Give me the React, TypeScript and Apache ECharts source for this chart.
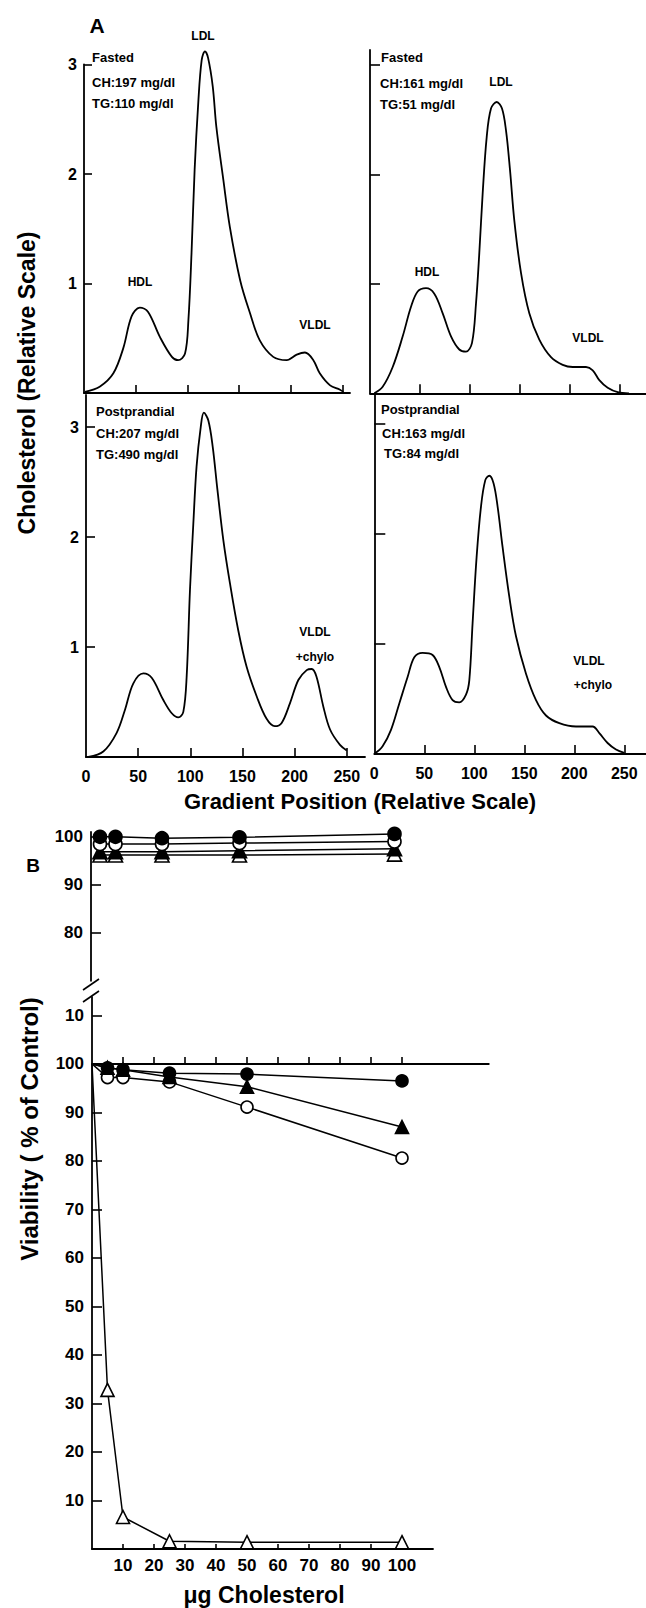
import React, { useEffect, useRef } from "react";
import * as echarts from "echarts";

const FONT = '"Liberation Sans", Arial, Helvetica, sans-serif';

// ---------- Panel A: gradient position vs cholesterol (relative scale) ----------
const fastedAPos = [1, 15.5, 28.4, 38, 46, 54, 62, 73.5, 85, 91, 97.7, 101, 104, 107, 110.5, 113.8, 117, 120, 124.5, 128, 134.7, 141, 151, 160.5, 170, 183, 196, 205.7, 213.7, 221.8, 228, 238, 247.6, 250.8];
const fastedAChol = [0.01, 0.06, 0.18, 0.41, 0.7, 0.78, 0.74, 0.51, 0.33, 0.3, 0.36, 0.67, 1.28, 2.04, 2.65, 3.04, 3.12, 3.06, 2.8, 2.43, 1.95, 1.52, 1.03, 0.73, 0.48, 0.33, 0.3, 0.35, 0.37, 0.3, 0.18, 0.07, 0.03, 0.01];

const fastedBPos = [4.3, 12.7, 22.7, 32.7, 41, 47.7, 56, 64.3, 72.7, 81, 89.3, 96, 102, 106, 109.3, 112.7, 116.7, 121, 126.7, 132, 136, 140, 144.3, 151, 159.3, 169.3, 181, 192.7, 202.7, 216, 222.7, 229.3, 237.7, 247.7, 259];
const fastedBChol = [0, 0.06, 0.24, 0.52, 0.79, 0.93, 0.96, 0.91, 0.73, 0.52, 0.4, 0.38, 0.46, 0.82, 1.28, 1.83, 2.34, 2.6, 2.66, 2.6, 2.4, 2.04, 1.58, 1.1, 0.73, 0.49, 0.33, 0.26, 0.24, 0.24, 0.21, 0.12, 0.05, 0.01, 0];

const postAPos = [2.2, 16.6, 29.4, 37.4, 45.4, 55, 63, 74, 82, 88.5, 93.3, 96.5, 99.7, 102.9, 106, 110, 113, 117.3, 121.5, 126, 131.7, 138, 146, 154, 163.7, 173, 181, 187.6, 195.6, 203.6, 211.6, 216.4, 221, 227.5, 234, 243.5, 250];
const postAChol = [0, 0.05, 0.22, 0.43, 0.67, 0.76, 0.72, 0.52, 0.4, 0.36, 0.41, 0.73, 1.52, 2.12, 2.64, 3.0, 3.13, 3.06, 2.82, 2.43, 1.97, 1.58, 1.15, 0.82, 0.55, 0.35, 0.28, 0.31, 0.49, 0.7, 0.79, 0.8, 0.73, 0.46, 0.25, 0.11, 0.06];

const postBPos = [0, 8.3, 16.7, 25, 33.3, 40, 48.3, 58.3, 65, 71.7, 78.3, 85, 91.7, 95, 98.3, 102.3, 106.7, 111, 115, 119.3, 123.3, 128.3, 135, 141.7, 151.7, 161.7, 171.7, 185, 201.7, 218.3, 225, 233.3, 241.7, 250];
const postBChol = [0, 0.07, 0.22, 0.46, 0.7, 0.88, 0.92, 0.9, 0.79, 0.61, 0.49, 0.47, 0.54, 0.67, 1.19, 1.79, 2.25, 2.49, 2.53, 2.46, 2.25, 1.88, 1.43, 1.07, 0.73, 0.49, 0.35, 0.28, 0.25, 0.25, 0.19, 0.1, 0.04, 0.01];

const gradientTicks = [0, 50, 100, 150, 200, 250];
const cholTicks = [1, 2, 3];

// ---------- Panel B: viability (% of control) vs µg cholesterol ----------
const doseUpper = [5, 10, 25, 50, 100];
const upperFilledCircle = [100, 100, 99.7, 99.9, 100.6];
const upperOpenCircle = [98.5, 98.5, 98.5, 98.7, 99];
const upperFilledTriangle = [96.9, 96.9, 96.9, 97.1, 97.5];
const upperOpenTriangle = [96.2, 96.2, 96.2, 96.2, 96.4];

const doseLower = [0, 5, 10, 25, 50, 100];
const lowerFilledCircle = [100, 99.2, 98.8, 98.1, 97.9, 96.5];
const lowerFilledTriangle = [100, 99.2, 98.8, 97.3, 95.3, 87.0];
const lowerOpenCircle = [100, 97.2, 97.2, 96.3, 91.1, 80.6];
const lowerOpenTriangle = [100, 32.8, 6.6, 1.6, 1.4, 1.4];

const upperViabilityTicks = [80, 90, 100];
const lowerViabilityTicks = [10, 20, 30, 40, 50, 60, 70, 80, 90, 100, 110];
const doseTicks = [10, 20, 30, 40, 50, 60, 70, 80, 90, 100];

const BLACK = "#000";

function pairs(xs: number[], ys: number[]) {
  return xs.map((x, i) => [x, ys[i]]);
}

function txt(text: string, x: number, y: number, size: number, align: string = "left", rotation = 0) {
  return {
    type: "text",
    x,
    y,
    rotation,
    silent: true,
    style: {
      text,
      x: 0,
      y: 0,
      font: `bold ${size}px ${FONT}`,
      fill: BLACK,
      align,
      verticalAlign: "middle",
    },
  };
}

function seg(x1: number, y1: number, x2: number, y2: number) {
  return {
    type: "line",
    silent: true,
    shape: { x1, y1, x2, y2 },
    style: { stroke: BLACK, lineWidth: 1.6 },
  };
}

const axisLine = { show: true, onZero: false, lineStyle: { color: BLACK, width: 1.8 } };

function valueX(gridIndex: number, min: number, max: number, tickVals: number[] | null, labelVals: number[] | null, tickLen: number, extra: any = {}) {
  return {
    type: "value",
    gridIndex,
    min,
    max,
    show: true,
    position: "bottom",
    axisLine,
    splitLine: { show: false },
    axisTick: tickVals
      ? { show: true, inside: true, length: tickLen, customValues: tickVals, lineStyle: { color: BLACK, width: 1.6 } }
      : { show: false },
    axisLabel: labelVals
      ? { show: true, customValues: labelVals, color: BLACK, fontFamily: FONT, fontWeight: "bold", fontSize: 16, margin: 11 }
      : { show: false },
    ...extra,
  };
}

function valueY(gridIndex: number, min: number, max: number, tickVals: number[], labelVals: number[] | null, tickLen: number, extra: any = {}) {
  return {
    type: "value",
    gridIndex,
    min,
    max,
    position: "left",
    axisLine,
    splitLine: { show: false },
    axisTick: { show: true, inside: true, length: tickLen, customValues: tickVals, lineStyle: { color: BLACK, width: 1.6 } },
    axisLabel: labelVals
      ? { show: true, customValues: labelVals, color: BLACK, fontFamily: FONT, fontWeight: "bold", fontSize: 16, margin: 7 }
      : { show: false },
    ...extra,
  };
}

function curve(xs: number[], ys: number[], idx: number) {
  return {
    type: "line",
    xAxisIndex: idx,
    yAxisIndex: idx,
    data: pairs(xs, ys),
    smooth: 0.35,
    symbol: "none",
    clip: false,
    silent: true,
    lineStyle: { color: BLACK, width: 1.8 },
  };
}

function markerSeries(xs: number[], ys: number[], idx: number, symbol: string, filled: boolean, firstBare = false, big = false) {
  const size = (symbol === "triangle" ? 13 : 12) + (big ? 1 : 0);
  return {
    type: "line",
    xAxisIndex: idx,
    yAxisIndex: idx,
    data: xs.map((x, i) =>
      firstBare && i === 0 ? { value: [x, ys[i]], symbol: "none" } : { value: [x, ys[i]] }
    ),
    symbol,
    symbolSize: size,
    showSymbol: true,
    showAllSymbol: true,
    clip: false,
    silent: true,
    lineStyle: { color: BLACK, width: 1.5 },
    itemStyle: { color: filled ? BLACK : "#fff", borderColor: BLACK, borderWidth: 1.6 },
  };
}

export default function App() {
  const ref = useRef<HTMLDivElement>(null);

  useEffect(() => {
    document.body.style.margin = "0";
    const el = ref.current;
    if (!el) return;
    const chart = echarts.init(el, null, { renderer: "svg" });

    const grids = [
      { left: 84, top: 64.5, width: 266, height: 328.5 },
      { left: 370, top: 50, width: 276, height: 343.3 },
      { left: 86, top: 395, width: 279, height: 362 },
      { left: 374.3, top: 395, width: 271.7, height: 359 },
      { left: 91, top: 832, width: 334.5, height: 148.8 },
      { left: 92, top: 997, width: 341, height: 552 },
      { left: 92, top: 1054, width: 396.8, height: 10 },
    ].map((g) => ({ ...g, containLabel: false, outerBoundsMode: "none", show: false }));

    const xAxis = [
      valueX(0, 0, 257.25, [50, 100, 150, 200, 250], null, 8),
      valueX(1, 0, 276, [50, 100, 150, 200, 250], null, 9),
      valueX(2, 0, 267.5, [50, 100, 150, 200, 250], gradientTicks, 9),
      valueX(3, 0, 271.7, [50, 100, 150, 200, 250], gradientTicks, 9),
      { type: "value", gridIndex: 4, min: 2.1, max: 110, show: false },
      {
        ...valueX(5, 0, 110, doseTicks, doseTicks, 5),
        axisLabel: { show: true, customValues: doseTicks, color: BLACK, fontFamily: FONT, fontWeight: "bold", fontSize: 17, margin: 8 },
      },
      valueX(6, 0, 128, doseTicks, null, 7),
    ];

    const yAxis = [
      valueY(0, 0, 3, cholTicks, cholTicks, 8),
      valueY(1, 0, 3.135, cholTicks, null, 10),
      valueY(2, 0, 3.291, cholTicks, cholTicks, 9),
      valueY(3, 0, 3.264, cholTicks, null, 11),
      {
        ...valueY(4, 70, 101, upperViabilityTicks, upperViabilityTicks, 10),
        axisLabel: { show: true, customValues: upperViabilityTicks, color: BLACK, fontFamily: FONT, fontWeight: "bold", fontSize: 17, margin: 8 },
      },
      {
        ...valueY(5, 0, 113.8, lowerViabilityTicks, lowerViabilityTicks, 10),
        axisLabel: {
          show: true,
          customValues: lowerViabilityTicks,
          color: BLACK,
          fontFamily: FONT,
          fontWeight: "bold",
          fontSize: 17,
          margin: 8,
          formatter: (v: number) => (v === 110 ? "10" : String(v)),
        },
      },
      { type: "value", gridIndex: 6, min: 0, max: 1, show: false },
    ];

    const series: any[] = [
      curve(fastedAPos, fastedAChol, 0),
      curve(fastedBPos, fastedBChol, 1),
      curve(postAPos, postAChol, 2),
      curve(postBPos, postBChol, 3),
      markerSeries(doseUpper, upperOpenTriangle, 4, "triangle", false, false, true),
      markerSeries(doseUpper, upperFilledTriangle, 4, "triangle", true, false, true),
      markerSeries(doseUpper, upperOpenCircle, 4, "circle", false, false, true),
      markerSeries(doseUpper, upperFilledCircle, 4, "circle", true, false, true),
      markerSeries(doseLower, lowerOpenTriangle, 5, "triangle", false, true),
      markerSeries(doseLower, lowerOpenCircle, 5, "circle", false, true),
      markerSeries(doseLower, lowerFilledTriangle, 5, "triangle", true, true),
      markerSeries(doseLower, lowerFilledCircle, 5, "circle", true, true),
    ];

    const graphic = [
      txt("A", 97, 25, 21, "center"),
      txt("LDL", 203, 36, 12, "center"),
      txt("Fasted", 92, 57, 13),
      txt("CH:197 mg/dl", 92, 82, 13),
      txt("TG:110 mg/dl", 92, 103, 13),
      txt("HDL", 140, 282, 12, "center"),
      txt("VLDL", 315, 325, 12, "center"),
      txt("Fasted", 381, 57, 13),
      txt("CH:161 mg/dl", 380, 83, 13),
      txt("TG:51 mg/dl", 380, 104, 13),
      txt("LDL", 501, 82, 12, "center"),
      txt("HDL", 427, 272, 12, "center"),
      txt("VLDL", 588, 338, 12, "center"),
      txt("Postprandial", 96, 411, 13),
      txt("CH:207 mg/dl", 96, 433, 13),
      txt("TG:490 mg/dl", 96, 454, 13),
      txt("VLDL", 315, 632, 12, "center"),
      txt("+chylo", 315, 657, 12, "center"),
      txt("Postprandial", 381, 409, 13),
      txt("CH:163 mg/dl", 382, 433, 13),
      txt("TG:84 mg/dl", 384, 453, 13),
      txt("VLDL", 589, 661, 12, "center"),
      txt("+chylo", 593, 685, 12, "center"),
      txt("Cholesterol (Relative Scale)", 27, 383, 23, "center", Math.PI / 2),
      txt("Gradient Position (Relative Scale)", 360, 801, 22, "center"),
      txt("B", 33, 865, 19, "center"),
      txt("Viability ( % of Control)", 29, 1129, 24, "center", Math.PI / 2),
      txt("\u03bcg Cholesterol", 264, 1595, 23, "center"),
      seg(83, 990, 99, 979),
      seg(83, 1002, 99, 991),
    ];

    chart.setOption({
      animation: false,
      backgroundColor: "#fff",
      tooltip: { show: false },
      grid: grids,
      xAxis,
      yAxis,
      series,
      graphic,
    });

    return () => chart.dispose();
  }, []);

  return <div ref={ref} style={{ width: 646, height: 1608 }} />;
}
